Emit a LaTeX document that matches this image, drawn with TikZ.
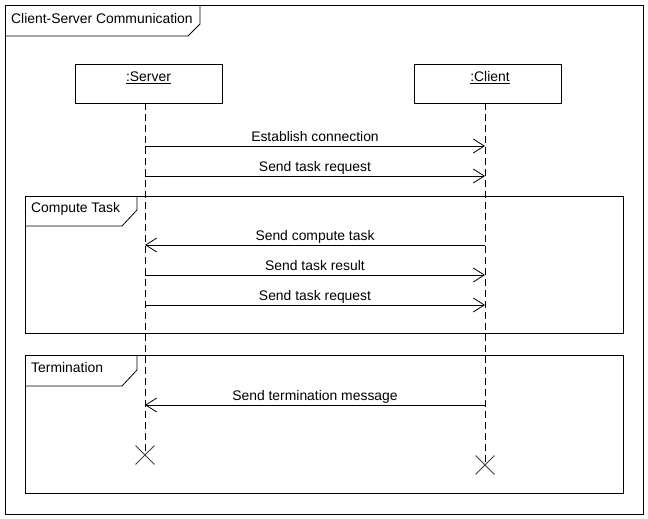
\documentclass[tikz,border=0pt]{standalone}
\usepackage{fontspec}
\setmainfont{Liberation Sans}
\usetikzlibrary{arrows.meta,positioning,shapes.misc}
\tikzset{
  every node/.style={font=\fontsize{13.9}{16}\selectfont,inner sep=2pt},
  frame/.style={draw,line width=0.8pt},
  objbox/.style={draw,line width=0.8pt,minimum width=147pt,minimum height=39pt},
  lifeline/.style={line width=0.8pt,dash pattern=on 7pt off 4pt},
  msg/.style={line width=0.8pt,-{Straight Barb[length=11pt,width=14pt,line width=0.8pt]}},
  msglabel/.style={anchor=base,yshift=5pt,inner sep=0pt},
  killx/.style={cross out,draw=black!75,line width=0.9pt,minimum size=18pt,inner sep=0pt}
}
\begin{document}
\begin{tikzpicture}[x=1pt,y=-1pt,line join=miter]
  \useasboundingbox (0,0) rectangle (648,519);

  % outer frame and its tab
  \draw[frame] (5,5) rectangle (643,514);
  \draw[frame] (5,36) -- (188,36) -- (200,24) -- (200,5);
  \node[anchor=west] (title) at (9,19) {Client-Server Communication};

  % objects
  \node[objbox] (srv) at (148.5,83.5) {};
  \node[objbox] (cli) at (488,83.5) {};
  \node (srvname) at (148.5,78) {\underline{:Server}};
  \node (cliname) at (490,78) {\underline{:Client}};

  % lifelines
  \coordinate (srvtop) at (145,103);
  \coordinate (clitop) at (485,103);
  \coordinate (srvend) at (145,455);
  \coordinate (cliend) at (485,465);
  \draw[lifeline] (srvtop) -- (srvend);
  \draw[lifeline] (clitop) -- (cliend);
  \node[killx] (srvx) at (srvend) {};
  \node[killx] (clix) at (cliend) {};

  % fragments
  \draw[frame] (25,196) rectangle (623,333);
  \draw[frame] (25,226) -- (122,226) -- (137,210) -- (137,196);
  \node[anchor=west] (compute) at (29,209) {Compute Task};
  \draw[frame] (25,355) rectangle (623,493);
  \draw[frame] (25,386) -- (122,386) -- (137,370) -- (137,355);
  \node[anchor=west] (term) at (29,368) {Termination};

  % messages
  \foreach \y/\from/\to/\txt/\n in {
      146/s/c/Establish connection/1,
      176/s/c/Send task request/2,
      245/c/s/Send compute task/3,
      275/s/c/Send task result/4,
      305/s/c/Send task request/5,
      405/c/s/Send termination message/6}{
    \coordinate (s\n) at (145,\y);
    \coordinate (c\n) at (485,\y);
    \draw[msg] (\from\n) -- node[msglabel] (lbl\n) {\txt} (\to\n);
  }
\end{tikzpicture}
\end{document}
